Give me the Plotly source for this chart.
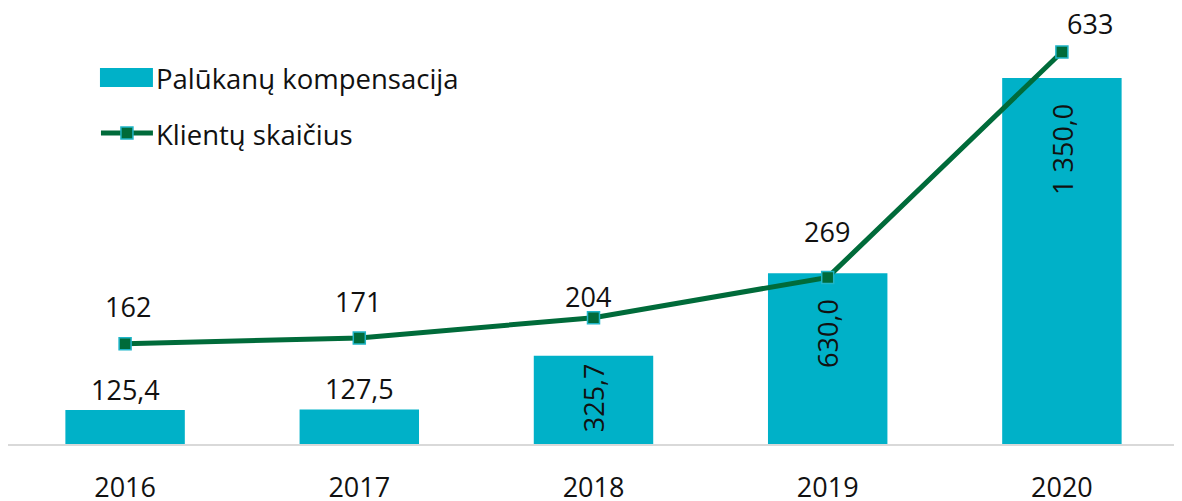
import plotly.graph_objects as go

years = ["2016", "2017", "2018", "2019", "2020"]
compensation = [125.4, 127.5, 325.7, 630.0, 1350.0]
clients = [162, 171, 204, 269, 633]

bar_name = "Palūkanų kompensacija"
line_name = "Klientų skaičius"

BAR_COLOR = "#00B1C8"
LINE_COLOR = "#006B3A"
MARKER_EDGE = "#1FB5C8"
TEXT_COLOR = "#111111"
FONT = "Open Sans"
FS = 27
# page has an 8px body margin: figure fills the rest of the 1182x501 window
OFF = 8
W, H = 1182 - OFF, 501 - OFF
ML, MR, MT, MB = 0, 2.5, 12, 57
PW, PH = W - ML - MR, H - MT - MB

xpos = list(range(len(years)))


def fmt_lt(v):
    s = f"{v:,.1f}"
    return s.replace(",", " ").replace(".", ",")


fig = go.Figure()
fig.add_trace(go.Bar(
    x=xpos, y=compensation, name=bar_name, width=0.51,
    marker=dict(color=BAR_COLOR, line=dict(width=0)),
    xaxis="x", yaxis="y", showlegend=False,
))
fig.add_trace(go.Scatter(
    x=xpos, y=clients, name=line_name, mode="lines+markers",
    line=dict(color=LINE_COLOR, width=5),
    marker=dict(symbol="square", size=12, color=LINE_COLOR,
                line=dict(color=MARKER_EDGE, width=1.5)),
    xaxis="x", yaxis="y2", showlegend=False,
))

# bar labels: outside for small bars, rotated inside for tall ones
bar_label_inside = [False, False, True, True, True]
bar_label_dy = [0, 0, -42, -60, -71]
annotations = []
for x, v, inside, dy in zip(xpos, compensation, bar_label_inside, bar_label_dy):
    if inside:
        annotations.append(dict(
            x=x, y=v, xref="x", yref="y", text=fmt_lt(v), showarrow=False,
            textangle=-90, xanchor="center", yanchor="middle", yshift=dy,
            font=dict(family=FONT, size=FS, color=TEXT_COLOR)))
    else:
        annotations.append(dict(
            x=x, y=v, xref="x", yref="y", text=fmt_lt(v), showarrow=False,
            xanchor="center", yanchor="bottom", yshift=dy,
            font=dict(family=FONT, size=FS, color=TEXT_COLOR)))

# line labels with per-point offsets
line_label_dx = [3, -1, -6, -1, 28]
line_label_dy = [37, 37, 21, 46, 28]
for x, v, dx, dy in zip(xpos, clients, line_label_dx, line_label_dy):
    annotations.append(dict(
        x=x, y=v, xref="x", yref="y2", text=str(v), showarrow=False,
        xanchor="center", yanchor="middle", xshift=dx, yshift=dy,
        font=dict(family=FONT, size=FS, color=TEXT_COLOR)))


def lx(x):
    return (x - OFF - ML) / PW


def ly(y):
    return 1 - (y - OFF - MT) / PH


shapes = [
    dict(type="rect", xref="paper", yref="paper",
         x0=lx(100), x1=lx(153), y0=ly(87), y1=ly(68),
         fillcolor=BAR_COLOR, line=dict(width=0)),
    dict(type="line", xref="paper", yref="paper",
         x0=lx(101), x1=lx(153), y0=ly(133), y1=ly(133),
         line=dict(color=LINE_COLOR, width=5)),
    dict(type="rect", xref="paper", yref="paper",
         x0=lx(121), x1=lx(133), y0=ly(139), y1=ly(127),
         fillcolor=LINE_COLOR, line=dict(color=MARKER_EDGE, width=1.5)),
]
annotations.append(dict(
    x=lx(154), y=ly(78), xref="paper", yref="paper", text=bar_name,
    showarrow=False, xanchor="left", yanchor="middle",
    font=dict(family=FONT, size=27.5, color=TEXT_COLOR)))
annotations.append(dict(
    x=lx(154), y=ly(134), xref="paper", yref="paper", text=line_name,
    showarrow=False, xanchor="left", yanchor="middle",
    font=dict(family=FONT, size=27.5, color=TEXT_COLOR)))

fig.update_layout(
    width=W, height=H,
    margin=dict(l=ML, r=MR, t=MT, b=MB, autoexpand=False),
    paper_bgcolor="white", plot_bgcolor="white",
    font=dict(family=FONT, size=FS, color=TEXT_COLOR),
    showlegend=False,
    xaxis=dict(type="linear", range=[-0.5, len(years) - 0.5],
               tickmode="array", tickvals=xpos, ticktext=years,
               automargin=False,
               showgrid=False, zeroline=False, showline=True,
               linecolor="#D9D9D9", linewidth=2, ticks="",
               ticklabelstandoff=19,
               tickfont=dict(family=FONT, size=FS, color=TEXT_COLOR)),
    yaxis=dict(range=[0, 1564], visible=False, showgrid=False,
               automargin=False),
    yaxis2=dict(range=[0, 684.6], overlaying="y", visible=False,
                showgrid=False, automargin=False),
    annotations=annotations,
    shapes=shapes,
)

fig.write_html("out.html")
